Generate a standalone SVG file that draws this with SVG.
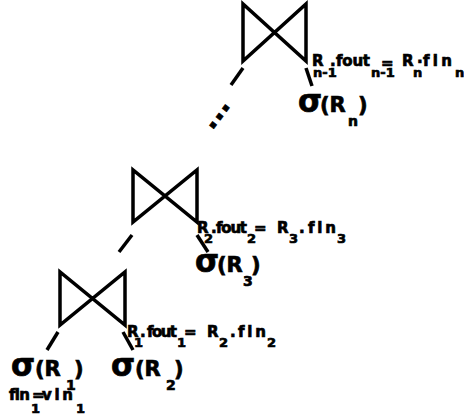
<svg xmlns="http://www.w3.org/2000/svg" width="464" height="417" viewBox="0 0 464 417">
<style>
.bt{fill:none;stroke:#000;stroke-width:3.5;stroke-linejoin:miter}
.e{stroke:#000;stroke-width:3.5;fill:none}
text{font-family:"DejaVu Sans","Liberation Sans",sans-serif;font-weight:bold;fill:#000;stroke:#000;stroke-width:0.7;font-variant-ligatures:none}
.m{font-size:15px}
.s{font-size:13px}
.sg{font-size:31px}
.p{font-size:21px}
.ps{font-size:14px}
</style>
<rect width="464" height="417" fill="#fff"/>
<g id="connectors">
<line class="e" x1="243" y1="68" x2="231" y2="85"/>
<line class="e" x1="306" y1="68" x2="312" y2="86"/>
<line class="e" x1="132" y1="235" x2="119" y2="252"/>
<line class="e" x1="197" y1="235" x2="208" y2="252"/>
<line class="e" x1="58" y1="332" x2="47" y2="350"/>
<line class="e" x1="123" y1="332" x2="133" y2="350"/>
<text transform="translate(212,131) rotate(-53)" style="font-size:28px">...</text>
</g>
<g id="join-top">
<path class="bt" d="M243,4 L243,61 L306,4 L306,61 Z"/>
<text class="m" x="312" y="66">R</text>
<text class="s" x="313" y="77">n-1</text>
<text class="m" x="330" y="66">.</text>
<text class="m" x="336" y="66" textLength="34" lengthAdjust="spacing">fout</text>
<text class="s" x="371" y="77">n-1</text>
<text class="m" x="381" y="68">=</text>
<text class="m" x="402" y="66">R</text>
<text class="s" x="413" y="77">n</text>
<text class="m" x="417" y="63">.</text>
<text class="m" x="423" y="66" textLength="29" lengthAdjust="spacing">fin</text>
<text class="s" x="455" y="77">n</text>
</g>
<g id="sel-n">
<text class="sg" x="298" y="112">σ</text>
<text class="p" x="320" y="112">(R</text>
<text class="ps" x="348" y="126">n</text>
<text class="p" x="358" y="112">)</text>
</g>
<g id="join-mid">
<path class="bt" d="M133,170 L133,222 L197,170 L197,222 Z"/>
<text class="m" x="197" y="233">R</text>
<text class="s" x="204" y="243">2</text>
<text class="m" x="211" y="233">.</text>
<text class="m" x="216" y="233" textLength="31" lengthAdjust="spacing">fout</text>
<text class="s" x="247" y="243">2</text>
<text class="m" x="254" y="233">=</text>
<text class="m" x="277" y="233">R</text>
<text class="s" x="289" y="243">3</text>
<text class="m" x="299" y="233">.</text>
<text class="m" x="308" y="233" textLength="28" lengthAdjust="spacing">fin</text>
<text class="s" x="337" y="243">3</text>
</g>
<g id="sel-3">
<text class="sg" x="195" y="272">σ</text>
<text class="p" x="217" y="272">(R</text>
<text class="ps" x="243" y="286">3</text>
<text class="p" x="251" y="272">)</text>
</g>
<g id="join-bottom">
<path class="bt" d="M60,272 L60,325 L125,272 L125,325 Z"/>
<text class="m" x="127" y="337">R</text>
<text class="s" x="134" y="347">1</text>
<text class="m" x="140" y="337">.</text>
<text class="m" x="147" y="337" textLength="30" lengthAdjust="spacing">fout</text>
<text class="s" x="177" y="347">1</text>
<text class="m" x="184" y="337">=</text>
<text class="m" x="207" y="337">R</text>
<text class="s" x="219" y="347">2</text>
<text class="m" x="230" y="337">.</text>
<text class="m" x="238" y="337" textLength="28" lengthAdjust="spacing">fin</text>
<text class="s" x="267" y="347">2</text>
</g>
<g id="sel-1">
<text class="sg" x="11" y="376">σ</text>
<text class="p" x="35" y="376">(R</text>
<text class="ps" x="66" y="390">1</text>
<text class="p" x="74" y="376">)</text>
<text class="m" x="9" y="400" textLength="21" lengthAdjust="spacing">fin</text>
<text class="s" x="31" y="413">1</text>
<text class="m" x="32" y="400">=</text>
<text class="m" x="42" y="400" textLength="31" lengthAdjust="spacing">vin</text>
<text class="s" x="76" y="413">1</text>
</g>
<g id="sel-2">
<text class="sg" x="111" y="376">σ</text>
<text class="p" x="135" y="376">(R</text>
<text class="ps" x="166" y="390">2</text>
<text class="p" x="174" y="376">)</text>
</g>
</svg>
